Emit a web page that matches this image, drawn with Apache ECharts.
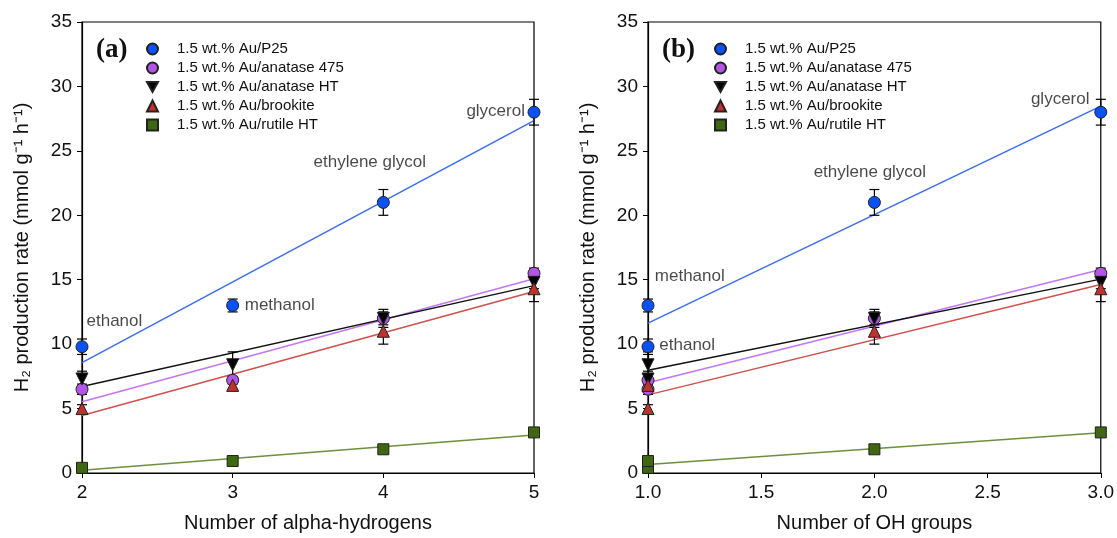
<!DOCTYPE html>
<html><head><meta charset="utf-8">
<script src="https://cdn.jsdelivr.net/npm/echarts@6/dist/echarts.min.js"></script>
<style>html,body{margin:0;padding:0;background:#fff}#c{width:1117px;height:538px}</style>
</head><body><div id="c"></div>
<script>
// alcohols (order): ethanol, methanol, ethylene glycol, glycerol
const alcohols = ['ethanol', 'methanol', 'ethylene glycol', 'glycerol'];
const alphaH = [2, 3, 4, 5];
const ohGroups = [1, 1, 2, 3];
const seriesNames = ['1.5 wt.% Au/P25', '1.5 wt.% Au/anatase 475', '1.5 wt.% Au/anatase HT', '1.5 wt.% Au/brookite', '1.5 wt.% Au/rutile HT'];
const valP25 = [9.8, 13.0, 21.0, 28.0];
const errP25 = [0.6, 0.5, 1.0, 1.0];
const valAna475 = [6.5, 7.2, 12.0, 15.5];
const errAna475 = [0.4, 0.3, 0.5, 0.4];
const valAnaHT = [7.3, 8.4, 12.0, 14.8];
const errAnaHT = [0.6, 1.0, 0.7, 0.5];
const valBrook = [5.0, 6.8, 11.0, 14.3];
const errBrook = [0.3, 0.3, 1.0, 1.0];
const valRutile = [0.4, 0.93, 1.84, 3.15];
const errRutile = [0.2, 0.2, 0.2, 0.2];
const yTicks = [0, 5, 10, 15, 20, 25, 30, 35];
const xTicksA = [2, 3, 4, 5];
const xTicksB = ['1.0', '1.5', '2.0', '2.5', '3.0'];

const values = [valP25, valAna475, valAnaHT, valBrook, valRutile];
const errors = [errP25, errAna475, errAnaHT, errBrook, errRutile];
const fills = ['#0a52f5', '#b355e6', '#000000', '#c0322e', '#3f6611'];
const lineColors = ['#3b6ef2', '#c476f5', '#111111', '#d0504c', '#6e8f3e'];
const downTri = 'path://M0,0 L10,0 L5,9 Z';
const symbols = ['circle', 'circle', downTri, 'triangle', 'rect'];

function fit(xs, ys) {
  const n = xs.length;
  const mx = xs.reduce((a, b) => a + b, 0) / n, my = ys.reduce((a, b) => a + b, 0) / n;
  let sxy = 0, sxx = 0;
  for (let i = 0; i < n; i++) { sxy += (xs[i] - mx) * (ys[i] - my); sxx += (xs[i] - mx) ** 2; }
  const b = sxy / sxx, a = my - b * mx;
  const x0 = Math.min(...xs), x1 = Math.max(...xs);
  return [[x0, a + b * x0], [x1, a + b * x1]];
}

const font = 'Liberation Sans, Arial, sans-serif';
const series = [];
const panels = [{xs: alphaH}, {xs: ohGroups}];
panels.forEach((p, gi) => {
  values.forEach((v, si) => {
    series.push({type: 'line', xAxisIndex: gi, yAxisIndex: gi, data: fit(p.xs, v), symbol: 'none', silent: true,
      lineStyle: {color: lineColors[si], width: 1.5}, z: 2});
  });
  values.forEach((v, si) => {
    series.push({type: 'custom', xAxisIndex: gi, yAxisIndex: gi, z: 3, silent: true,
      data: v.map((y, i) => [p.xs[i], y - errors[si][i], y + errors[si][i]]),
      renderItem: (params, api) => {
        const lo = api.coord([api.value(0), api.value(1)]);
        const hi = api.coord([api.value(0), api.value(2)]);
        const w = 5;
        const st = {stroke: '#000', lineWidth: 1.2};
        return {type: 'group', children: [
          {type: 'line', shape: {x1: lo[0], y1: lo[1], x2: hi[0], y2: hi[1]}, style: st},
          {type: 'line', shape: {x1: lo[0] - w, y1: lo[1], x2: lo[0] + w, y2: lo[1]}, style: st},
          {type: 'line', shape: {x1: hi[0] - w, y1: hi[1], x2: hi[0] + w, y2: hi[1]}, style: st}
        ]};
      }});
  });
  values.forEach((v, si) => {
    series.push({type: 'scatter', name: seriesNames[si], xAxisIndex: gi, yAxisIndex: gi, z: 4,
      data: v.map((y, i) => [p.xs[i], y]), symbol: symbols[si], symbolSize: si === 4 ? 11 : 12,
      itemStyle: {color: fills[si], borderColor: '#222', borderWidth: 1, opacity: 1}});
  });
});

// annotation labels (data coords)
const annotA = [[2.03, 11.8, alcohols[0], 'left'], [3.08, 13.0, alcohols[1], 'left'], [3.91, 24.1, alcohols[2], 'center'], [4.94, 28.1, alcohols[3], 'right']];
const annotB = [[1.05, 9.9, alcohols[0], 'left'], [1.03, 15.3, alcohols[1], 'left'], [1.98, 23.3, alcohols[2], 'center'], [2.95, 29.0, alcohols[3], 'right']];
[annotA, annotB].forEach((arr, gi) => {
  series.push({type: 'scatter', xAxisIndex: gi, yAxisIndex: gi, symbolSize: 0, silent: true, z: 5,
    data: arr.map(a => ({value: [a[0], a[1]], label: {show: true, formatter: a[2], position: 'inside', align: a[3]}})),
    label: {color: '#1a1a1a', fontSize: 17, fontFamily: font}});
});

function xAxis(gi) {
  const base = {type: 'value', gridIndex: gi, name: gi === 0 ? 'Number of alpha-hydrogens' : 'Number of OH groups',
    nameLocation: 'middle', nameGap: 40, nameTextStyle: {fontSize: 20, color: '#111', fontFamily: font},
    axisLine: {lineStyle: {color: '#000', width: 1.2}}, axisTick: {length: 5, lineStyle: {color: '#000'}},
    axisLabel: {fontSize: 19, color: '#111', fontFamily: font, margin: 10}, splitLine: {show: false}};
  if (gi === 0) { base.min = xTicksA[0]; base.max = xTicksA[xTicksA.length - 1]; base.interval = 1; }
  else { base.min = +xTicksB[0]; base.max = +xTicksB[xTicksB.length - 1]; base.interval = 0.5;
    base.axisLabel.formatter = v => xTicksB.find(t => +t === v) || v.toFixed(1); }
  return base;
}
function yAxis(gi) {
  return {type: 'value', gridIndex: gi, min: yTicks[0], max: yTicks[yTicks.length - 1], interval: 5,
    name: 'H\u2082 production rate (mmol g\u207B\u00B9 h\u207B\u00B9)', nameLocation: 'middle', nameGap: 50,
    nameTextStyle: {fontSize: 20, color: '#111', fontFamily: font},
    axisLine: {lineStyle: {color: '#000', width: 1.2}}, axisTick: {length: 5, lineStyle: {color: '#000'}},
    axisLabel: {fontSize: 19, color: '#111', fontFamily: font, margin: 10}, splitLine: {show: false}};
}

const legendData = seriesNames.map((n, i) => ({name: n, icon: symbols[i]}));
const legendBase = {data: legendData, orient: 'vertical', top: 41, padding: 0, itemWidth: 11, itemHeight: 11, itemGap: 3,
  textStyle: {fontSize: 15, color: '#111', fontFamily: font, padding: [0, 0, 0, 14], lineHeight: 16}, selectedMode: false};
const chart = echarts.init(document.getElementById('c'), null, {renderer: 'canvas'});
chart.setOption({
  animation: false,
  backgroundColor: '#fff',
  grid: [
    {left: 82, top: 22, width: 452, height: 451, show: true, borderColor: '#000', borderWidth: 1.2},
    {left: 648, top: 22, width: 454, height: 451, show: true, borderColor: '#000', borderWidth: 1.2}
  ],
  xAxis: [xAxis(0), xAxis(1)],
  yAxis: [yAxis(0), yAxis(1)],
  legend: [
    Object.assign({left: 146}, legendBase),
    Object.assign({left: 714}, legendBase)
  ],
  graphic: [
    {type: 'text', left: 96, top: 37, style: {text: '(a)', font: 'bold 27px "Liberation Serif", "Times New Roman", serif', fill: '#111'}},
    {type: 'text', left: 662, top: 37, style: {text: '(b)', font: 'bold 27px "Liberation Serif", "Times New Roman", serif', fill: '#111'}}
  ],
  series: series
});
</script></body></html>
